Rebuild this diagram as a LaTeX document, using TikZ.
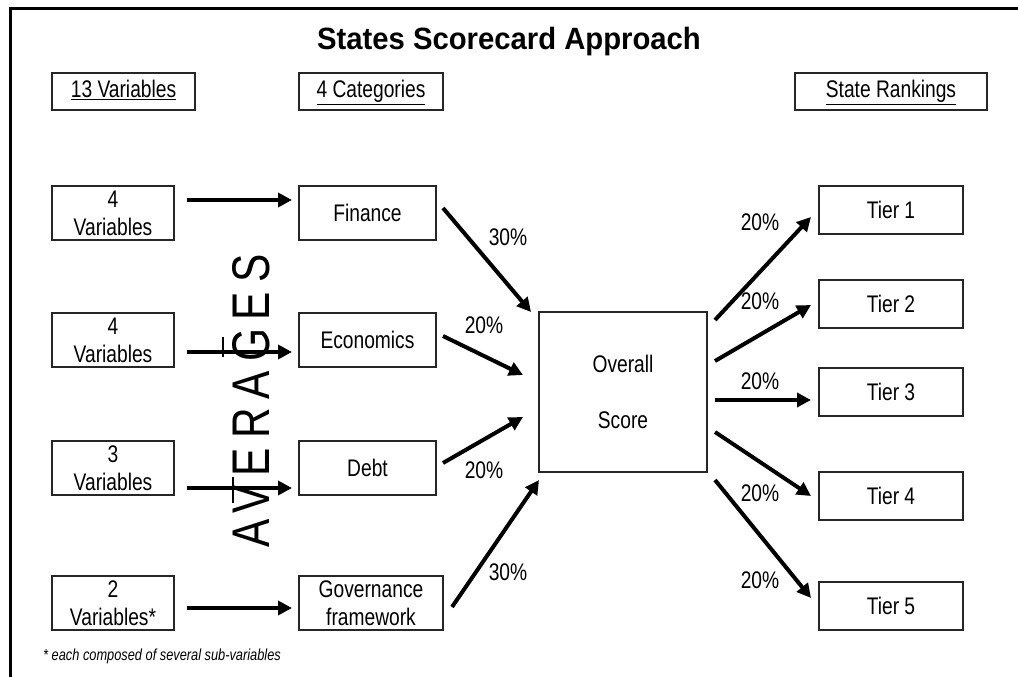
\documentclass[tikz,border=0pt]{standalone}
\usepackage{fontspec}
\setmainfont{Liberation Sans}[FakeStretch=0.8]
\newfontfamily\titlefont{Liberation Sans}[FakeStretch=0.95]
\usepackage{tikz}
\usetikzlibrary{positioning, arrows.meta}

\begin{document}
\begin{tikzpicture}[
        x=1pt, y=-1pt,
        box/.style={draw=black!85, line width=1.2pt, rectangle, align=center, inner sep=1pt, outer sep=0pt, font=\fontsize{24}{28}\selectfont},
        hdr/.style={box, minimum height=37pt, text height=17pt, text depth=5pt},
        varbox/.style={box, minimum width=122pt, minimum height=54pt},
        catbox/.style={box, minimum width=137pt, minimum height=54pt},
        tierbox/.style={box, minimum width=144pt, minimum height=48pt},
        scorebox/.style={box, minimum width=168pt, minimum height=160pt},
        pct/.style={inner sep=0pt, font=\fontsize{24}{28}\selectfont},
        arrow/.style={-{Triangle[length=14pt, width=14pt]}, line width=4pt}
      ]
      \useasboundingbox (0,0) rectangle (1018,677);

      % frame
      \draw[line width=3pt] (10,677) -- (10,9) -- (1018,9);

      \node[font=\titlefont\bfseries\fontsize{30.8}{33}\selectfont, anchor=base] (title) at (509,50) {States Scorecard Approach};

      % headers
      \node[hdr, minimum width=143pt] (hvar) at (123.5,91.5) {\underline{13 Variables}};
      \node[hdr, minimum width=144pt, right=104pt of hvar] (hcat) {\underline{4 Categories}};
      \node[hdr, minimum width=192pt] (hrank) at (891,91.5) {\underline{State Rankings}};

      % variables
      \node[varbox] (v1) at (113,213) {4\\Variables};
      \node[varbox, below=73pt of v1] (v2) {4\\Variables};
      \node[varbox, below=74pt of v2] (v3) {3\\Variables};
      \node[varbox, below=81pt of v3] (v4) {2\\Variables*};

      % categories
      \node[catbox, right=125pt of v1] (fin) {Finance};
      \node[catbox, right=125pt of v2] (eco) {Economics};
      \node[catbox, right=125pt of v3] (debt) {Debt};
      \node[catbox, minimum width=144pt, right=125pt of v4] (gov) {Governance\\framework};

      % averages
      \node[rotate=90, inner sep=0pt, font=\fontsize{53}{53}\selectfont\addfontfeature{LetterSpace=17}] (avg) at (251,401) {AVERAGES};
      \draw[line width=2pt] (223,337) -- (223,357);
      \draw[line width=2pt] (233,477) -- (233,503);

      % overall score
      \node[scorebox] (score) at (623,392) {Overall\\[28pt]Score};

      % tiers
      \node[tierbox] (t1) at (891,210) {Tier 1};
      \node[tierbox, below=46pt of t1] (t2) {Tier 2};
      \node[tierbox, below=40pt of t2] (t3) {Tier 3};
      \node[tierbox, below=56pt of t3] (t4) {Tier 4};
      \node[tierbox, below=62pt of t4] (t5) {Tier 5};

      % edges
      \draw[arrow] ([xshift=13pt,yshift=13pt]v1.east) -- ([xshift=-7pt,yshift=13pt]fin.west);
      \draw[arrow] ([xshift=13pt,yshift=-12pt]v2.east) -- ([xshift=-7pt,yshift=-12pt]eco.west);
      \draw[arrow] ([xshift=13pt,yshift=-20pt]v3.east) -- ([xshift=-7pt,yshift=-20pt]debt.west);
      \draw[arrow] ([xshift=13pt,yshift=-5pt]v4.east) -- ([xshift=-7pt,yshift=-5pt]gov.west);

      \draw[arrow] ([xshift=7pt,yshift=5pt]fin.east) -- ([xshift=-8pt]score.north west);
      \draw[arrow] ([xshift=7pt,yshift=4pt]eco.east) -- ([xshift=-16pt,yshift=17pt]score.west);
      \draw[arrow] ([xshift=7pt,yshift=5pt]debt.east) -- ([xshift=-16pt,yshift=-25pt]score.west);
      \draw[arrow] ([xshift=9pt,yshift=-4pt]gov.east) -- ([yshift=-8pt]score.south west);

      \draw[arrow] ([xshift=8pt,yshift=-8pt]score.north east) -- ([xshift=-8pt,yshift=-7pt]t1.west);
      \draw[arrow] ([xshift=8pt,yshift=31pt]score.east) -- ([xshift=-8pt,yshift=-1pt]t2.west);
      \draw[arrow] ([xshift=8pt,yshift=-8pt]score.east) -- ([xshift=-8pt,yshift=-8pt]t3.west);
      \draw[arrow] ([xshift=8pt,yshift=-40pt]score.east) -- ([xshift=-8pt]t4.west);
      \draw[arrow] ([xshift=8pt,yshift=-8pt]score.south east) -- ([xshift=-8pt,yshift=8pt]t5.west);

      % weights
      \node[pct] (wfin) at (508,237) {30\%};
      \node[pct] (weco) at (484,325) {20\%};
      \node[pct] (wdebt) at (484,470) {20\%};
      \node[pct] (wgov) at (508,572) {30\%};
      \node[pct] (wt1) at (760,222) {20\%};
      \node[pct] (wt2) at (760,301) {20\%};
      \node[pct] (wt3) at (760,381) {20\%};
      \node[pct] (wt4) at (760,493) {20\%};
      \node[pct] (wt5) at (760,580) {20\%};

      % footnote
      \node[anchor=west, inner sep=0pt, font=\itshape\fontsize{16}{18}\selectfont] (note) at (43,656) {* each composed of several sub-variables};

      \end{tikzpicture}
\end{document}
